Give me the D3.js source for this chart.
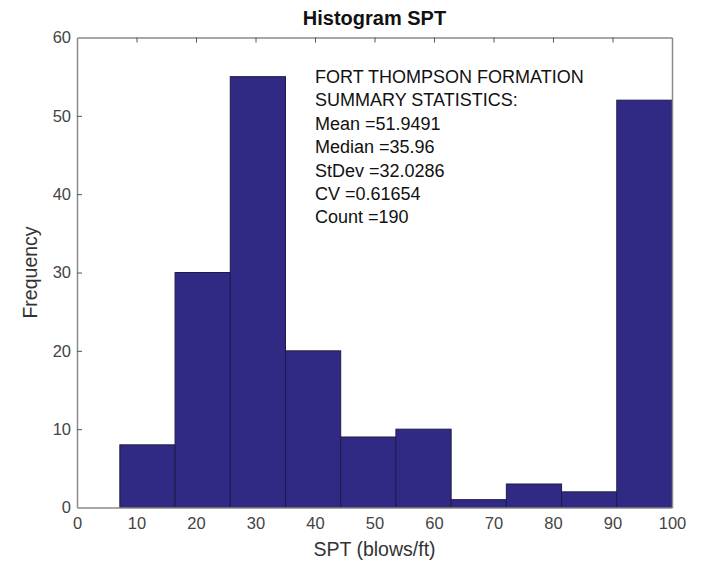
<!DOCTYPE html>
<html>
<head>
<meta charset="utf-8">
<title>Histogram SPT</title>
<script src="https://d3js.org/d3.v7.min.js"></script>
<style>
  body { margin: 0; background: #fff; }
  text { font-family: "Liberation Sans", Arial, sans-serif; }
</style>
</head>
<body>
<svg id="chart" width="701" height="561"></svg>
<script>
// bin edges (SPT, blows/ft) and counts per bin
var binEdges = [7.2, 16.48, 25.76, 35.04, 44.32, 53.6, 62.88, 72.16, 81.44, 90.72, 100];
var counts = [8, 30, 55, 20, 9, 10, 1, 3, 2, 52];
var xTicks = [0, 10, 20, 30, 40, 50, 60, 70, 80, 90, 100];
var yTicks = [0, 10, 20, 30, 40, 50, 60];
var statLines = [
  "FORT THOMPSON FORMATION",
  "SUMMARY STATISTICS:",
  "Mean =51.9491",
  "Median =35.96",
  "StDev =32.0286",
  "CV =0.61654",
  "Count =190"
];

var svg = d3.select("#chart"),
    margin = {top: 37.5, right: 29, bottom: 53.5, left: 77},
    width = +svg.attr("width") - margin.left - margin.right,
    height = +svg.attr("height") - margin.top - margin.bottom;

var x = d3.scaleLinear().domain([0, 100]).range([0, width]);
var y = d3.scaleLinear().domain([0, 60]).range([height, 0]);

var g = svg.append("g").attr("transform", "translate(" + margin.left + "," + margin.top + ")");

var bins = counts.map(function(c, i) { return {x0: binEdges[i], x1: binEdges[i + 1], n: c}; });

g.selectAll("rect.bar")
  .data(bins)
  .enter().append("rect")
  .attr("class", "bar")
  .attr("x", function(d) { return x(d.x0); })
  .attr("width", function(d) { return x(d.x1) - x(d.x0); })
  .attr("y", function(d) { return y(d.n); })
  .attr("height", function(d) { return y(0) - y(d.n); })
  .attr("fill", "#302a85")
  .attr("stroke", "#1e1b4a")
  .attr("stroke-width", 1);

// stats text box
g.append("g")
  .attr("transform", "translate(" + x(40) + "," + (83 - margin.top) + ")")
  .selectAll("text")
  .data(statLines)
  .enter().append("text")
  .attr("y", function(d, i) { return i * 23.4; })
  .attr("font-size", 18)
  .attr("fill", "#111")
  .text(function(d) { return d; });

// axes: ticks point inward, box around the plot
var axisColor = "#8a8a8a";
var xBottom = g.append("g").attr("transform", "translate(0," + height + ")")
  .call(d3.axisBottom(x).tickValues(xTicks).tickSizeInner(0).tickSizeOuter(0).tickPadding(10));
var xTop = g.append("g")
  .call(d3.axisTop(x).tickValues(xTicks).tickSizeInner(-5).tickSizeOuter(0).tickFormat(""));
var yLeft = g.append("g")
  .call(d3.axisLeft(y).tickValues(yTicks).tickSizeInner(-5).tickSizeOuter(0).tickPadding(6));
var yRight = g.append("g").attr("transform", "translate(" + width + ",0)")
  .call(d3.axisRight(y).tickValues(yTicks).tickSizeInner(0).tickSizeOuter(0).tickFormat(""));

[xBottom, xTop, yLeft, yRight].forEach(function(a) {
  a.select(".domain").attr("stroke", axisColor).attr("stroke-width", 1.5);
  a.selectAll(".tick line").attr("stroke", "#555").attr("stroke-width", 1);
  a.selectAll(".tick text").attr("fill", "#444").attr("font-size", 16.5);
});
xTop.selectAll(".tick").filter(function(d) { return d === 0 || d === 100; }).remove();
yLeft.selectAll(".tick line").filter(function(d) { return d === 0 || d === 60; }).remove();

// title and axis labels
svg.append("text")
  .attr("x", margin.left + width / 2)
  .attr("y", 25)
  .attr("text-anchor", "middle")
  .attr("font-size", 20)
  .attr("font-weight", "bold")
  .attr("fill", "#111")
  .text("Histogram SPT");

svg.append("text")
  .attr("x", margin.left + width / 2)
  .attr("y", 556)
  .attr("text-anchor", "middle")
  .attr("font-size", 19.5)
  .attr("fill", "#333")
  .text("SPT (blows/ft)");

svg.append("text")
  .attr("transform", "translate(37," + (margin.top + height / 2) + ") rotate(-90)")
  .attr("text-anchor", "middle")
  .attr("font-size", 19.5)
  .attr("fill", "#333")
  .text("Frequency");
</script>
</body>
</html>
